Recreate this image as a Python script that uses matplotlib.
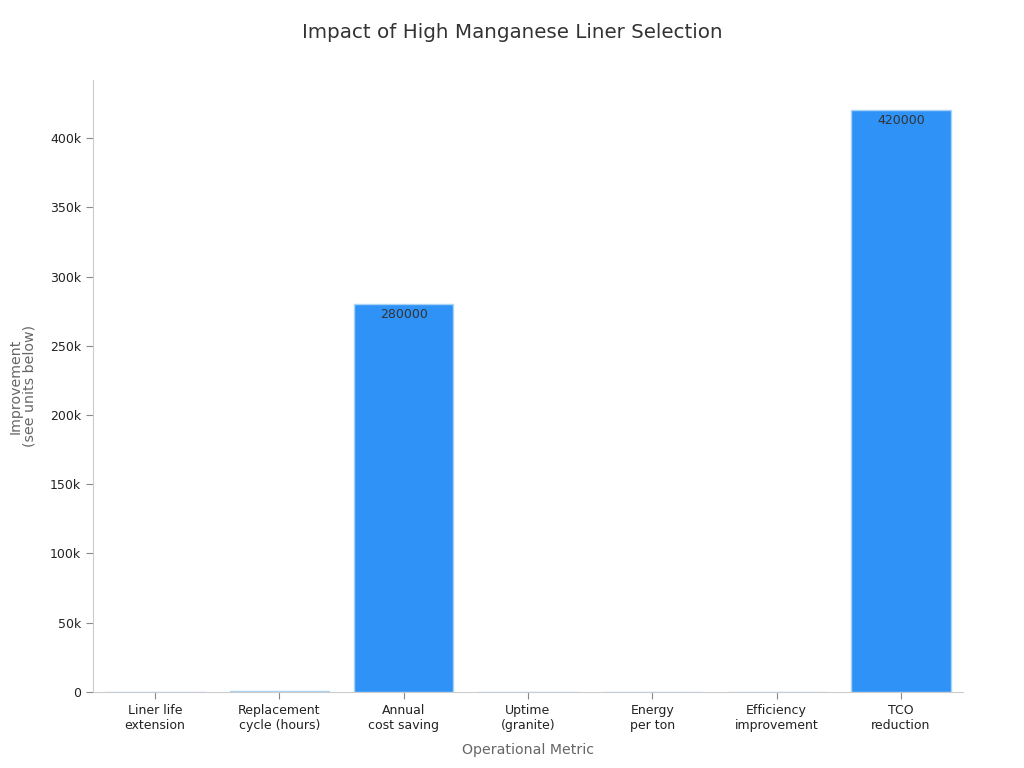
import matplotlib.pyplot as plt
from matplotlib.ticker import FuncFormatter

categories = ["Liner life\nextension", "Replacement\ncycle (hours)", "Annual\ncost saving",
              "Uptime\n(granite)", "Energy\nper ton", "Efficiency\nimprovement", "TCO\nreduction"]
values = [50, 1000, 280000, 90, 15, 20, 420000]

fig = plt.figure(figsize=(10.24, 7.68), dpi=100)
ax = fig.add_axes([0.0908, 0.099, 0.8496, 0.797])

x = list(range(len(categories)))
bars = ax.bar(x, values, width=0.8, color="#2f92f7", edgecolor="#a9d3f5", linewidth=1)

# value labels inside the tall bars only
for rect, v in zip(bars, values):
    if v > 0.1 * max(values):
        ax.text(rect.get_x() + rect.get_width() / 2, v - 2500, str(v),
                ha="center", va="top", fontsize=9, color="#333333")

ax.set_xlim(-0.5, 6.5)
ax.set_ylim(0, 442000)
ax.set_yticks(range(0, 400001, 50000))
ax.yaxis.set_major_formatter(FuncFormatter(lambda v, p: "0" if v == 0 else f"{int(v/1000)}k"))
ax.set_xticks(x)
ax.set_xticklabels(categories, fontsize=9, color="#222222")
ax.tick_params(axis="y", labelsize=9, labelcolor="#222222")
ax.tick_params(axis="both", color="#888888", length=5)

for s in ["top", "right"]:
    ax.spines[s].set_visible(False)
for s in ["left", "bottom"]:
    ax.spines[s].set_color("#cccccc")

ax.set_xlabel("Operational Metric", fontsize=10.2, color="#666666", labelpad=8)
ax.set_ylabel("Improvement\n(see units below)", fontsize=10.2, color="#666666",
              labelpad=10, linespacing=1.0)
fig.suptitle("Impact of High Manganese Liner Selection", fontsize=14.3, color="#333333", y=0.97)

fig.savefig("out.png", dpi=100)
